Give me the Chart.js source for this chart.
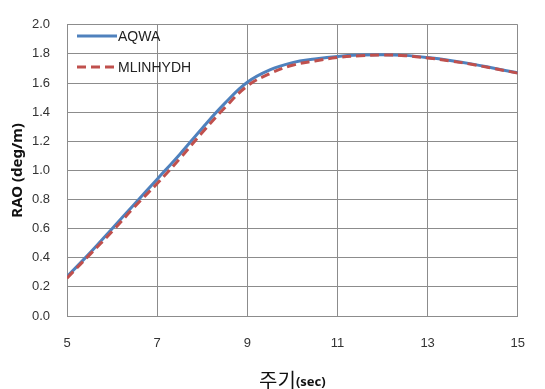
<!DOCTYPE html>
<html>
<head>
<meta charset="utf-8">
<script src="https://cdn.jsdelivr.net/npm/chart.js@4.4.0/dist/chart.umd.min.js"></script>
<style>
  html, body { margin: 0; padding: 0; background: #fff; }
  #wrap { width: 545px; height: 389px; }
</style>
</head>
<body>
<div id="wrap"><canvas id="rao-chart"></canvas></div>
<script>
const periods = [5, 5.5, 6, 6.5, 7, 7.5, 8, 8.5, 9, 9.5, 10, 10.5, 11, 11.5, 12, 12.5, 13, 13.5, 14, 14.5, 15];
const aqwa = [0.27, 0.43, 0.60, 0.77, 0.94, 1.11, 1.29, 1.46, 1.605, 1.69, 1.74, 1.765, 1.783, 1.792, 1.795, 1.79, 1.775, 1.755, 1.73, 1.70, 1.67];
const mlinhydh = [0.26, 0.42, 0.58, 0.75, 0.91, 1.08, 1.26, 1.43, 1.58, 1.665, 1.722, 1.752, 1.775, 1.788, 1.793, 1.788, 1.772, 1.752, 1.727, 1.698, 1.668];
const xTicks = [5, 7, 9, 11, 13, 15];
const yTicks = [0.0, 0.2, 0.4, 0.6, 0.8, 1.0, 1.2, 1.4, 1.6, 1.8, 2.0];

const toPoints = vals => periods.map((p, i) => ({ x: p, y: vals[i] }));

// x axis title has two fonts, so draw it by hand
const xTitle = {
  id: 'xTitle',
  afterDraw(chart) {
    const ctx = chart.ctx;
    const cx = (chart.chartArea.left + chart.chartArea.right) / 2;
    const y = 380;
    ctx.save();
    ctx.textBaseline = 'middle';
    ctx.fillStyle = '#111';
    const a = '주기', b = '(sec)';
    ctx.font = '20px "Noto Sans CJK KR"';
    const wa = ctx.measureText(a).width;
    ctx.font = 'bold 13px "Noto Sans"';
    const wb = ctx.measureText(b).width;
    const start = cx - (wa + wb) / 2;
    ctx.font = '20px "Noto Sans CJK KR"';
    ctx.fillText(a, start, y);
    ctx.font = 'bold 13px "Noto Sans"';
    ctx.fillText(b, start + wa, y + 2);
    ctx.restore();
  }
};

// legend sits inside the plot, top left
const innerLegend = {
  id: 'innerLegend',
  afterDatasetsDraw(chart) {
    const ctx = chart.ctx;
    const x0 = chart.chartArea.left + 10;
    let y = 36;
    ctx.save();
    chart.data.datasets.forEach(ds => {
      ctx.beginPath();
      ctx.lineWidth = ds.borderWidth;
      ctx.strokeStyle = ds.borderColor;
      ctx.setLineDash(ds.borderDash || []);
      ctx.moveTo(x0, y);
      ctx.lineTo(x0 + 40, y);
      ctx.stroke();
      ctx.setLineDash([]);
      ctx.fillStyle = '#222';
      ctx.font = '14px "Liberation Sans"';
      ctx.textBaseline = 'middle';
      ctx.fillText(ds.label, x0 + 41, y + 1);
      y += 31;
    });
    ctx.restore();
  }
};

const chart = new Chart(document.getElementById('rao-chart'), {
  type: 'line',
  data: {
    datasets: [
      {
        label: 'AQWA',
        data: toPoints(aqwa),
        borderColor: '#4F81BD',
        borderWidth: 3,
        pointRadius: 0,
        tension: 0.4,
        order: 1
      },
      {
        label: 'MLINHYDH',
        data: toPoints(mlinhydh),
        borderColor: '#C0504D',
        borderWidth: 3,
        borderDash: [9, 5],
        pointRadius: 0,
        tension: 0.4,
        order: 0
      }
    ]
  },
  options: {
    responsive: true,
    maintainAspectRatio: false,
    animation: false,
    layout: { padding: { top: 14, right: 21, left: 0, bottom: 0 } },
    plugins: {
      legend: { display: false },
      tooltip: { enabled: false }
    },
    scales: {
      x: {
        type: 'linear',
        min: 5,
        max: 15,
        afterBuildTicks: scale => { scale.ticks = xTicks.map(v => ({ value: v })); },
        afterFit: scale => { scale.height = 73; },
        grid: { color: '#8c8c8c', drawTicks: false },
        border: { color: '#8c8c8c' },
        ticks: {
          padding: 20,
          color: '#333',
          font: { family: 'Liberation Sans', size: 13 }
        }
      },
      y: {
        min: 0,
        max: 2,
        afterBuildTicks: scale => { scale.ticks = yTicks.map(v => ({ value: v })); },
        afterFit: scale => { scale.width = 67; },
        grid: { color: '#8c8c8c', drawTicks: false },
        border: { color: '#8c8c8c' },
        ticks: {
          padding: 17,
          color: '#333',
          font: { family: 'Liberation Sans', size: 13 },
          callback: v => v.toFixed(1)
        },
        title: {
          display: true,
          text: 'RAO (deg/m)',
          color: '#111',
          font: { family: 'Noto Sans', size: 15, weight: 'bold' },
          padding: { top: 9, bottom: 0 }
        }
      }
    }
  },
  plugins: [xTitle, innerLegend]
});
</script>
</body>
</html>
